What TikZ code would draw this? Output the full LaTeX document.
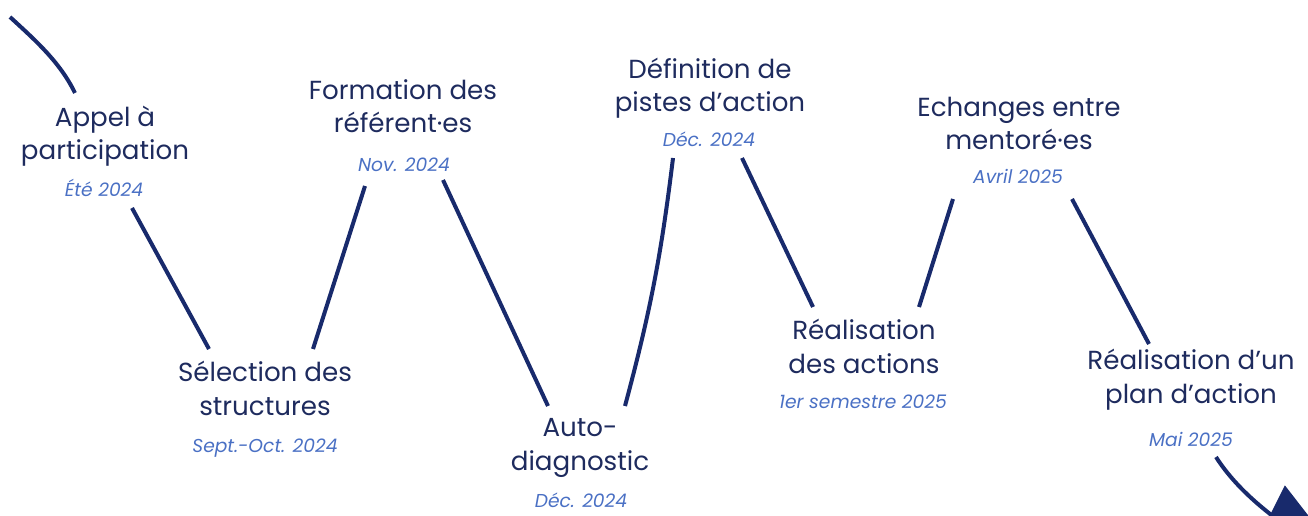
\documentclass[tikz,border=0pt]{standalone}
\usepackage{fontspec}
\setmainfont{Poppins}
\usetikzlibrary{positioning,arrows.meta}
\definecolor{navy}{HTML}{182A6C}
\definecolor{titlecol}{HTML}{1E2B5E}
\definecolor{datecol}{HTML}{4A70C4}

\begin{document}
\begin{tikzpicture}[x=0.75pt, y=-0.75pt,
  main/.style = {align=center, anchor=base, inner sep=0pt, text=titlecol,
    font=\fontsize{19.6}{25}\selectfont},
  date/.style = {anchor=base, inner sep=0pt, text=datecol,
    font=\fontsize{14}{16}\selectfont\itshape},
  wave/.style = {draw=navy, line width=3pt}]
			\useasboundingbox (0,0) rectangle (1308,516);
			% steps
			\node[main] (1) at (105,160) {Appel à\\participation};
			\node[main] (2) at (265,415) {Sélection des\\structures};
			\node[main] (3) at (403,133) {Formation des\\référent·es};
			\node[main] (4) at (580,470) {Auto-\\diagnostic};
			\node[main] (5) at (710,112) {Définition de\\pistes d’action};
			\node[main] (6) at (864,373) {Réalisation\\des actions};
			\node[main] (7) at (1019,150) {Echanges entre\\mentoré·es};
			\node[main] (8) at (1191,403) {Réalisation d’un\\plan d’action};
			% dates
			\node[date] (d1) at (104,197) {Été 2024};
			\node[date] (d2) at (265,452) {Sept.-Oct. 2024};
			\node[date] (d3) at (404,172) {Nov. 2024};
			\node[date] (d4) at (581,507) {Déc. 2024};
			\node[date] (d5) at (709,147) {Déc. 2024};
			\node[date] (d6) at (863,408) {1er semestre 2025};
			\node[date] (d7) at (1018,184) {Avril 2025};
			\node[date] (d8) at (1191,446) {Mai 2025};
			% wave ends
			\coordinate (a0) at (10,17);   \coordinate (b0) at (75,93);
			\coordinate (a1) at (132,208); \coordinate (b1) at (209,349);
			\coordinate (a2) at (313,349); \coordinate (b2) at (365,186);
			\coordinate (a3) at (443,180); \coordinate (b3) at (548,406);
			\coordinate (a4) at (625,406); \coordinate (b4) at (673,158);
			\coordinate (a5) at (742,158); \coordinate (b5) at (813,307);
			\coordinate (a6) at (919,307); \coordinate (b6) at (953,199);
			\coordinate (a7) at (1072,199); \coordinate (b7) at (1149,344);
			\coordinate (a8) at (1216,457); \coordinate (b8) at (1332,546);
			\draw[wave] (a0) .. controls (35,40) and (60,62) .. (b0);
			\draw[wave] (a1) -- (b1);
			\draw[wave] (a2) -- (b2);
			\draw[wave] (a3) -- (b3);
			\draw[wave] (a4) to[bend right=4] (b4);
			\draw[wave] (a5) -- (b5);
			\draw[wave] (a6) -- (b6);
			\draw[wave] (a7) -- (b7);
			\draw[wave, -{Triangle[length=52pt, width=49pt]}] (a8) .. controls (1240,495) and (1280,520) .. (b8);
		\end{tikzpicture}
\end{document}
